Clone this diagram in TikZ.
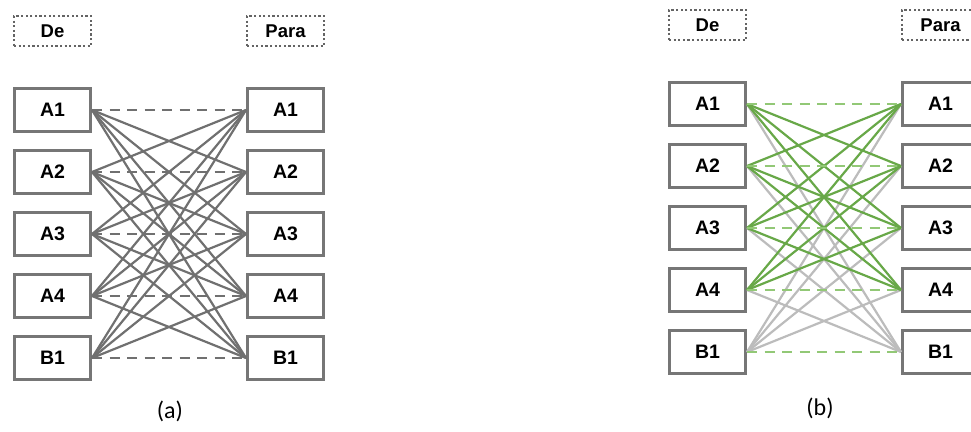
\documentclass[tikz,border=0pt]{standalone}
\usepackage{fontspec}
\setmainfont{Liberation Sans}
\newfontfamily\capfont{Carlito}
\definecolor{boxgray}{RGB}{118,118,118}
\definecolor{taggray}{RGB}{100,100,100}
\definecolor{linkgray}{RGB}{112,112,112}
\definecolor{lightlink}{RGB}{188,188,188}
\definecolor{linkgreen}{RGB}{104,168,72}
\definecolor{palegreen}{RGB}{146,200,118}
\begin{document}
\begin{tikzpicture}[x=1pt,y=-1pt,
  cell/.style={draw=boxgray,line width=2.8pt,fill=white,minimum width=76.2pt,
    minimum height=43.2pt,inner sep=0pt,font=\fontsize{19.5}{19.5}\selectfont\bfseries},
  tag/.style={draw=taggray,line width=2.4pt,dash pattern=on 2.2pt off 2.4pt,
    minimum width=77pt,minimum height=30pt,inner sep=0pt,
    font=\fontsize{18.5}{18.5}\selectfont\bfseries},
  link/.style={line width=2.2pt},
  same/.style={line width=2.2pt,dash pattern=on 10pt off 7.5pt},
  caption/.style={font=\capfont\fontsize{24}{24}\selectfont}]
\useasboundingbox (0,0) rectangle (971,431);

% ---------- panel (a) ----------
\node[tag] (deA) at (52.5,31) {De};
\node[tag] (paraA) at (285.5,31) {Para};
\foreach \n/\lab [evaluate=\n as \yy using 110+62*(\n-1)] in {1/A1,2/A2,3/A3,4/A4,5/B1}{
  \node[cell] (la\n) at (52.5,\yy) {\lab};
  \node[cell] (ra\n) at (285.5,\yy) {\lab};
}
\foreach \i in {1,...,5}{
  \foreach \j in {1,...,5}{
    \ifnum\i=\j
      \draw[same,linkgray] (la\i.east) -- (ra\j.west);
    \else
      \draw[link,linkgray] (la\i.east) -- (ra\j.west);
    \fi
  }
}
\node[caption] (capA) at (170,411) {(a)};

% ---------- panel (b) ----------
\node[tag] (deB) at (707.5,25) {De};
\node[tag] (paraB) at (940.5,25) {Para};
\foreach \n/\lab [evaluate=\n as \yy using 104+62*(\n-1)] in {1/A1,2/A2,3/A3,4/A4,5/B1}{
  \node[cell] (lb\n) at (707.5,\yy) {\lab};
  \node[cell] (rb\n) at (940.5,\yy) {\lab};
}
% links that involve B1
\foreach \k in {1,...,4}{
  \draw[link,lightlink] (lb5.east) -- (rb\k.west);
  \draw[link,lightlink] (lb\k.east) -- (rb5.west);
}
% links among A1--A4
\foreach \i in {1,...,4}{
  \foreach \j in {1,...,4}{
    \ifnum\i=\j\else
      \draw[link,linkgreen] (lb\i.east) -- (rb\j.west);
    \fi
  }
}
% links to the same label
\foreach \k in {1,...,5}{
  \draw[same,palegreen] (lb\k.east) -- (rb\k.west);
}
\node[caption] (capB) at (820,408) {(b)};
\end{tikzpicture}
\end{document}
